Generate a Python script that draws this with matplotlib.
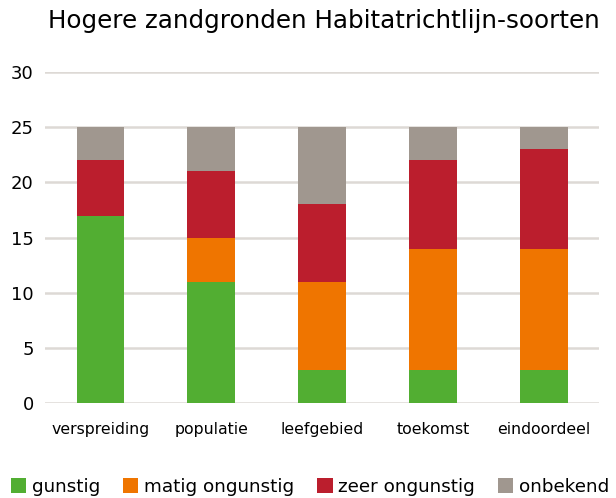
import matplotlib
matplotlib.use("Agg")
import matplotlib.pyplot as plt
import numpy as np

categories = ["verspreiding", "populatie", "leefgebied", "toekomst", "eindoordeel"]
gunstig = [17, 11, 3, 3, 3]
matig_ongunstig = [0, 4, 8, 11, 11]
zeer_ongunstig = [5, 6, 7, 8, 9]
onbekend = [3, 4, 7, 3, 2]
series_names = ["gunstig", "matig ongunstig", "zeer ongunstig", "onbekend"]
colors = ["#52AE32", "#EF7500", "#BB1E2D", "#A0978F"]
yticks = [0, 5, 10, 15, 20, 25, 30]

plt.rcParams['font.family'] = ['DejaVu Sans']
fig = plt.figure(figsize=(6.16, 4.98), dpi=100)
ax = fig.add_axes([0.073, 0.191, 0.9, 0.664])

x = np.arange(len(categories))
bottom = np.zeros(len(categories))
handles = []
for name, vals, c in zip(series_names, [gunstig, matig_ongunstig, zeer_ongunstig, onbekend], colors):
    h = ax.bar(x, vals, 0.43, bottom=bottom, color=c, label=name, zorder=3)
    handles.append(h)
    bottom += np.array(vals)

ax.set_xlim(-0.5, len(categories) - 0.5)
ax.set_ylim(0, 30)
ax.set_yticks(yticks)
ax.set_xticks(x)
ax.set_xticklabels(categories, fontsize=11.3)
ax.tick_params(axis='y', labelsize=13, length=0, pad=8)
ax.tick_params(axis='x', length=0, pad=14)
ax.yaxis.grid(True, color="#DDD9D5", linewidth=1.8, zorder=0)
for s in ax.spines.values():
    s.set_visible(False)

fig.text(0.525, 0.958, "Hogere zandgronden Habitatrichtlijn-soorten", fontsize=17.7, ha='center', va='center')

fig.legend(handles=handles, labels=series_names, loc='center', bbox_to_anchor=(0.503, 0.022),
           ncol=4, frameon=False, fontsize=13.2, handlelength=0.85, handleheight=0.85,
           handletextpad=0.3, columnspacing=1.25, borderaxespad=0)

fig.savefig("out.png", dpi=100)
